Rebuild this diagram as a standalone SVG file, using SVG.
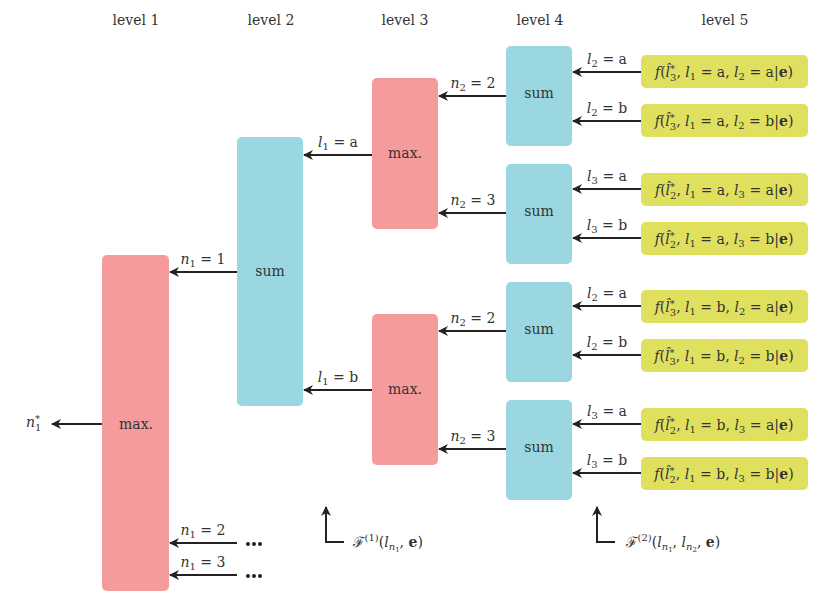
<svg xmlns="http://www.w3.org/2000/svg" width="830" height="609" viewBox="0 0 830 609">
<defs>
<marker id="ah" viewBox="0 0 10 10" refX="9" refY="5" markerWidth="10" markerHeight="10" markerUnits="userSpaceOnUse" orient="auto">
<path d="M0,0 L10,5 L0,10 L3,5 z" fill="#222"/>
</marker>
<style>
text{font-family:"DejaVu Serif","Liberation Serif","Noto Serif","Times New Roman",serif;fill:#333;font-size:14px}
.c{text-anchor:middle}
.i{font-style:italic}
.s{font-size:10px}
.b{font-weight:bold}
.mx{fill:#f69b9b}
.sm{fill:#9bd7e0}
.y{fill:#e0e05f}
.ar{stroke:#222;stroke-width:2;fill:none;marker-end:url(#ah)}
.ln{stroke:#222;stroke-width:2;fill:none}
.dot{fill:#222}
</style>
</defs>
<g id="headers">
<text class="c" x="136" y="25">level 1</text>
<text class="c" x="271" y="25">level 2</text>
<text class="c" x="405" y="25">level 3</text>
<text class="c" x="540" y="25">level 4</text>
<text class="c" x="725" y="25">level 5</text>
</g>
<g id="max1"><rect class="mx" x="102" y="255" width="67" height="336" rx="5"/><text class="c" x="136" y="429">max.</text></g>
<g id="sum2"><rect class="sm" x="237" y="137" width="66" height="269" rx="5"/><text class="c" x="270" y="276">sum</text></g>
<g id="max3a"><rect class="mx" x="372" y="78" width="66" height="151" rx="5"/><text class="c" x="405" y="158">max.</text></g>
<g id="max3b"><rect class="mx" x="372" y="314" width="66" height="151" rx="5"/><text class="c" x="405" y="394">max.</text></g>
<g id="sum4a"><rect class="sm" x="506" y="46" width="66" height="100" rx="5"/><text class="c" x="539" y="98">sum</text></g>
<g id="sum4b"><rect class="sm" x="506" y="164" width="66" height="100" rx="5"/><text class="c" x="539" y="216">sum</text></g>
<g id="sum4c"><rect class="sm" x="506" y="282" width="66" height="100" rx="5"/><text class="c" x="539" y="334">sum</text></g>
<g id="sum4d"><rect class="sm" x="506" y="400" width="66" height="100" rx="5"/><text class="c" x="539" y="452">sum</text></g>

<g id="f1"><rect class="y" x="641" y="55" width="167" height="33" rx="5"/><text class="c" x="724" y="77"><tspan class="i">f</tspan>(<tspan class="i">l̂</tspan><tspan class="s" dy="-5">*</tspan><tspan class="s" dx="-5" dy="9">3</tspan><tspan dy="-4">, </tspan><tspan class="i">l</tspan><tspan class="s" dy="3">1</tspan><tspan dy="-3"> = a, </tspan><tspan class="i">l</tspan><tspan class="s" dy="3">2</tspan><tspan dy="-3"> = a|</tspan><tspan class="b">e</tspan>)</text></g>
<g id="f2"><rect class="y" x="641" y="104" width="167" height="33" rx="5"/><text class="c" x="724" y="126"><tspan class="i">f</tspan>(<tspan class="i">l̂</tspan><tspan class="s" dy="-5">*</tspan><tspan class="s" dx="-5" dy="9">3</tspan><tspan dy="-4">, </tspan><tspan class="i">l</tspan><tspan class="s" dy="3">1</tspan><tspan dy="-3"> = a, </tspan><tspan class="i">l</tspan><tspan class="s" dy="3">2</tspan><tspan dy="-3"> = b|</tspan><tspan class="b">e</tspan>)</text></g>
<g id="f3"><rect class="y" x="641" y="173" width="167" height="33" rx="5"/><text class="c" x="724" y="195"><tspan class="i">f</tspan>(<tspan class="i">l̂</tspan><tspan class="s" dy="-5">*</tspan><tspan class="s" dx="-5" dy="9">2</tspan><tspan dy="-4">, </tspan><tspan class="i">l</tspan><tspan class="s" dy="3">1</tspan><tspan dy="-3"> = a, </tspan><tspan class="i">l</tspan><tspan class="s" dy="3">3</tspan><tspan dy="-3"> = a|</tspan><tspan class="b">e</tspan>)</text></g>
<g id="f4"><rect class="y" x="641" y="222" width="167" height="33" rx="5"/><text class="c" x="724" y="244"><tspan class="i">f</tspan>(<tspan class="i">l̂</tspan><tspan class="s" dy="-5">*</tspan><tspan class="s" dx="-5" dy="9">2</tspan><tspan dy="-4">, </tspan><tspan class="i">l</tspan><tspan class="s" dy="3">1</tspan><tspan dy="-3"> = a, </tspan><tspan class="i">l</tspan><tspan class="s" dy="3">3</tspan><tspan dy="-3"> = b|</tspan><tspan class="b">e</tspan>)</text></g>
<g id="f5"><rect class="y" x="641" y="290" width="167" height="33" rx="5"/><text class="c" x="724" y="312"><tspan class="i">f</tspan>(<tspan class="i">l̂</tspan><tspan class="s" dy="-5">*</tspan><tspan class="s" dx="-5" dy="9">3</tspan><tspan dy="-4">, </tspan><tspan class="i">l</tspan><tspan class="s" dy="3">1</tspan><tspan dy="-3"> = b, </tspan><tspan class="i">l</tspan><tspan class="s" dy="3">2</tspan><tspan dy="-3"> = a|</tspan><tspan class="b">e</tspan>)</text></g>
<g id="f6"><rect class="y" x="641" y="339" width="167" height="33" rx="5"/><text class="c" x="724" y="361"><tspan class="i">f</tspan>(<tspan class="i">l̂</tspan><tspan class="s" dy="-5">*</tspan><tspan class="s" dx="-5" dy="9">3</tspan><tspan dy="-4">, </tspan><tspan class="i">l</tspan><tspan class="s" dy="3">1</tspan><tspan dy="-3"> = b, </tspan><tspan class="i">l</tspan><tspan class="s" dy="3">2</tspan><tspan dy="-3"> = b|</tspan><tspan class="b">e</tspan>)</text></g>
<g id="f7"><rect class="y" x="641" y="408" width="167" height="33" rx="5"/><text class="c" x="724" y="430"><tspan class="i">f</tspan>(<tspan class="i">l̂</tspan><tspan class="s" dy="-5">*</tspan><tspan class="s" dx="-5" dy="9">2</tspan><tspan dy="-4">, </tspan><tspan class="i">l</tspan><tspan class="s" dy="3">1</tspan><tspan dy="-3"> = b, </tspan><tspan class="i">l</tspan><tspan class="s" dy="3">3</tspan><tspan dy="-3"> = a|</tspan><tspan class="b">e</tspan>)</text></g>
<g id="f8"><rect class="y" x="641" y="457" width="167" height="33" rx="5"/><text class="c" x="724" y="479"><tspan class="i">f</tspan>(<tspan class="i">l̂</tspan><tspan class="s" dy="-5">*</tspan><tspan class="s" dx="-5" dy="9">2</tspan><tspan dy="-4">, </tspan><tspan class="i">l</tspan><tspan class="s" dy="3">1</tspan><tspan dy="-3"> = b, </tspan><tspan class="i">l</tspan><tspan class="s" dy="3">3</tspan><tspan dy="-3"> = b|</tspan><tspan class="b">e</tspan>)</text></g>

<g id="connectors">
<line class="ar" x1="641" y1="72" x2="573" y2="72"/>
<line class="ar" x1="641" y1="121" x2="573" y2="121"/>
<line class="ar" x1="641" y1="189" x2="573" y2="189"/>
<line class="ar" x1="641" y1="238" x2="573" y2="238"/>
<line class="ar" x1="641" y1="306" x2="573" y2="306"/>
<line class="ar" x1="641" y1="355" x2="573" y2="355"/>
<line class="ar" x1="641" y1="424" x2="573" y2="424"/>
<line class="ar" x1="641" y1="473" x2="573" y2="473"/>
<line class="ar" x1="506" y1="96" x2="439" y2="96"/>
<line class="ar" x1="506" y1="213" x2="439" y2="213"/>
<line class="ar" x1="506" y1="331" x2="439" y2="331"/>
<line class="ar" x1="506" y1="449" x2="439" y2="449"/>
<line class="ar" x1="372" y1="155" x2="304" y2="155"/>
<line class="ar" x1="372" y1="390" x2="304" y2="390"/>
<line class="ar" x1="237" y1="272" x2="170" y2="272"/>
<line class="ar" x1="237" y1="543" x2="170" y2="543"/>
<line class="ar" x1="237" y1="575" x2="170" y2="575"/>
<line class="ar" x1="102" y1="424" x2="52" y2="424"/>
<path class="ln" d="M344,542 H326 V520"/>
<line class="ar" x1="326" y1="522" x2="326" y2="507"/>
<path class="ln" d="M615,542 H597 V520"/>
<line class="ar" x1="597" y1="522" x2="597" y2="507"/>
</g>

<g id="labels">
<text class="c" x="607" y="64"><tspan class="i">l</tspan><tspan class="s" dy="3">2</tspan><tspan dy="-3"> = a</tspan></text>
<text class="c" x="607" y="113"><tspan class="i">l</tspan><tspan class="s" dy="3">2</tspan><tspan dy="-3"> = b</tspan></text>
<text class="c" x="607" y="181"><tspan class="i">l</tspan><tspan class="s" dy="3">3</tspan><tspan dy="-3"> = a</tspan></text>
<text class="c" x="607" y="230"><tspan class="i">l</tspan><tspan class="s" dy="3">3</tspan><tspan dy="-3"> = b</tspan></text>
<text class="c" x="607" y="298"><tspan class="i">l</tspan><tspan class="s" dy="3">2</tspan><tspan dy="-3"> = a</tspan></text>
<text class="c" x="607" y="347"><tspan class="i">l</tspan><tspan class="s" dy="3">2</tspan><tspan dy="-3"> = b</tspan></text>
<text class="c" x="607" y="416"><tspan class="i">l</tspan><tspan class="s" dy="3">3</tspan><tspan dy="-3"> = a</tspan></text>
<text class="c" x="607" y="465"><tspan class="i">l</tspan><tspan class="s" dy="3">3</tspan><tspan dy="-3"> = b</tspan></text>
<text class="c" x="473" y="88"><tspan class="i">n</tspan><tspan class="s" dy="3">2</tspan><tspan dy="-3"> = 2</tspan></text>
<text class="c" x="473" y="205"><tspan class="i">n</tspan><tspan class="s" dy="3">2</tspan><tspan dy="-3"> = 3</tspan></text>
<text class="c" x="473" y="323"><tspan class="i">n</tspan><tspan class="s" dy="3">2</tspan><tspan dy="-3"> = 2</tspan></text>
<text class="c" x="473" y="441"><tspan class="i">n</tspan><tspan class="s" dy="3">2</tspan><tspan dy="-3"> = 3</tspan></text>
<text class="c" x="338" y="147"><tspan class="i">l</tspan><tspan class="s" dy="3">1</tspan><tspan dy="-3"> = a</tspan></text>
<text class="c" x="338" y="382"><tspan class="i">l</tspan><tspan class="s" dy="3">1</tspan><tspan dy="-3"> = b</tspan></text>
<text class="c" x="203" y="264"><tspan class="i">n</tspan><tspan class="s" dy="3">1</tspan><tspan dy="-3"> = 1</tspan></text>
<text class="c" x="203" y="535"><tspan class="i">n</tspan><tspan class="s" dy="3">1</tspan><tspan dy="-3"> = 2</tspan></text>
<text class="c" x="203" y="567"><tspan class="i">n</tspan><tspan class="s" dy="3">1</tspan><tspan dy="-3"> = 3</tspan></text>
<text x="26" y="427"><tspan class="i">n</tspan><tspan class="s" dy="-5">*</tspan><tspan class="s" dx="-5" dy="9">1</tspan></text>
<g class="dot"><circle cx="248" cy="544" r="2"/><circle cx="254" cy="544" r="2"/><circle cx="260" cy="544" r="2"/><circle cx="248" cy="576" r="2"/><circle cx="254" cy="576" r="2"/><circle cx="260" cy="576" r="2"/></g>
<text x="353" y="547"><tspan class="i">ℱ</tspan><tspan class="s" dy="-6">(1)</tspan><tspan dy="6">(</tspan><tspan class="i">l</tspan><tspan class="s i" dy="3">n</tspan><tspan style="font-size:7px" dy="2">1</tspan><tspan dy="-5">, </tspan><tspan class="b">e</tspan>)</text>
<text x="626" y="547"><tspan class="i">ℱ</tspan><tspan class="s" dy="-6">(2)</tspan><tspan dy="6">(</tspan><tspan class="i">l</tspan><tspan class="s i" dy="3">n</tspan><tspan style="font-size:7px" dy="2">1</tspan><tspan dy="-5">, </tspan><tspan class="i">l</tspan><tspan class="s i" dy="3">n</tspan><tspan style="font-size:7px" dy="2">2</tspan><tspan dy="-5">, </tspan><tspan class="b">e</tspan>)</text>
</g>
</svg>
